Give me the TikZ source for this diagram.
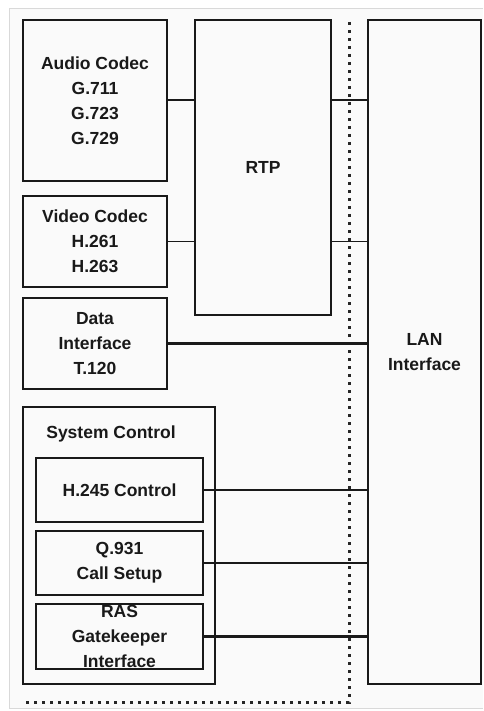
\documentclass[tikz,border=0pt]{standalone}
\usepackage{fontspec}
\setmainfont{Liberation Sans}
\begin{document}
\begin{tikzpicture}[x=1pt,y=-1pt,
  box/.style={draw=black!90, line width=2.4pt, inner sep=0pt, align=center,
    font=\fontsize{17.5}{25}\selectfont\bfseries, text=black!90},
  lbl/.style={inner sep=0pt, align=center,
    font=\fontsize{17.5}{25}\selectfont\bfseries, text=black!90},
  wire/.style={draw=black!90, line width=1.9pt},
  heavywire/.style={draw=black!90, line width=2.8pt},
  dotline/.style={draw=black!85, line width=3pt, dash pattern=on 3pt off 5pt}]

% canvas and faint frame
\useasboundingbox (0,0) rectangle (483,711);
\fill[white] (0,0) rectangle (483,711);
\fill[black!2] (9,9) rectangle (483,708);
\draw[black!15, line width=1pt] (483,9) -- (9,9) -- (9,708) -- (483,708);

% left column: codecs and data
\node[box, minimum width=144pt, minimum height=161pt] (audio) at (95,100.5)
  {Audio Codec\\G.711\\G.723\\G.729};
\node[box, minimum width=144pt, minimum height=91pt] (video) at (95,241.5)
  {Video Codec\\H.261\\H.263};
\node[box, minimum width=144pt, minimum height=91pt] (data) at (95,343.5)
  {Data\\Interface\\T.120};

% RTP and LAN interface
\node[box, line width=2.2pt, minimum width=136pt, minimum height=295pt] (rtp) at (263,167.5) {RTP};
\node[box, line width=2.2pt, minimum width=113pt, minimum height=664pt] (lan) at (424.5,352)
  {LAN\\Interface};

% system control group
\node[box, line width=2.2pt, minimum width=192pt, minimum height=277pt] (sys) at (119,545.5) {};
\node[lbl] (systitle) at (111,434) {System Control};
\node[box, minimum width=167pt, minimum height=64pt] (h245) at (119.5,490) {H.245 Control};
\node[box, minimum width=167pt, minimum height=64pt] (q931) at (119.5,563) {Q.931\\Call Setup};
\node[box, minimum width=167pt, minimum height=65pt] (ras) at (119.5,636.5)
  {RAS\\Gatekeeper\\Interface};

% dotted boundary
\coordinate (dtop) at (349,22);
\coordinate (dcorner) at (349,702);
\coordinate (dleft) at (23,702);
\draw[dotline] (dtop) -- (dcorner) -- (dleft);

% connectors
\draw[wire] (audio.east |- 0,100) -- (rtp.west |- 0,100);
\draw[wire] (rtp.east |- 0,100) -- (lan.west |- 0,100);
\draw[wire] (video.east) -- (video.east -| rtp.west);
\draw[wire] (rtp.east |- video.east) -- (lan.west |- video.east);
\draw[heavywire] (data.east) -- (data.east -| lan.west);
\draw[heavywire] (h245.east) -- (h245.east -| lan.west);
\draw[heavywire] (q931.east) -- (q931.east -| lan.west);
\draw[heavywire] (ras.east) -- (ras.east -| lan.west);
\end{tikzpicture}
\end{document}
